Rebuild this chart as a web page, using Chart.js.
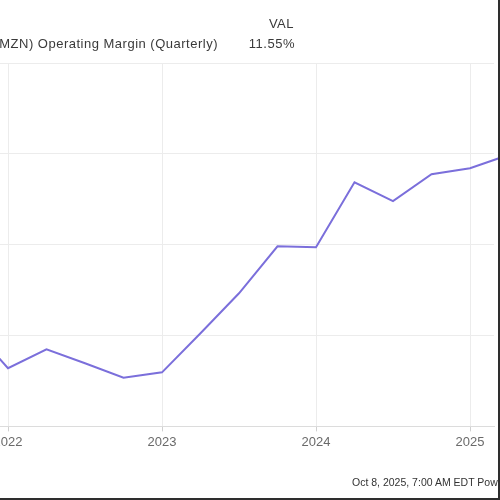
<!DOCTYPE html>
<html>
<head>
<meta charset="utf-8">
<script src="https://cdn.jsdelivr.net/npm/chart.js@4.4.1/dist/chart.umd.min.js"></script>
<style>
  html, body { margin: 0; padding: 0; background: #fff; }
  #frame {
    position: relative; width: 500px; height: 500px; overflow: hidden;
    box-sizing: border-box; border-right: 2px solid #2e2e2e; border-bottom: 2px solid #2e2e2e;
    background: #fff; font-family: "Liberation Sans", Arial, sans-serif;
  }
  #wrap { position: absolute; left: -100px; top: 0; width: 600px; height: 500px; }
  .txt { position: absolute; white-space: nowrap; font-size: 13px; line-height: 15px; letter-spacing: 0.5px; color: #3a3a3a; }
  #stamp { position: absolute; left: 352px; top: 476px; font-size: 10.5px; line-height: 12px; color: #333; white-space: nowrap; }
</style>
</head>
<body>
<div id="frame">
  <div id="wrap"><canvas id="c" width="600" height="500"></canvas></div>
  <div class="txt" id="series" style="right:280px; top:36px;"></div>
  <div class="txt" id="hdr" style="right:204px; top:16px;"></div>
  <div class="txt" id="val" style="right:203px; top:36px;"></div>
  <div id="stamp"></div>
</div>
<script>
// ---- data ----
const seriesName = "Amazon.com Inc (AMZN) Operating Margin (Quarterly)";
const valueHeader = "VAL";
const latestValue = "11.55%";
const stampText = "Oct 8, 2025, 7:00 AM EDT  Powered by YCHARTS";

const quarterYears = [2021, 2021, 2022, 2022, 2022, 2022, 2023, 2023, 2023, 2023, 2024, 2024, 2024, 2024, 2025, 2025];
const quarterNums  = [3, 4, 1, 2, 3, 4, 1, 2, 3, 4, 1, 2, 3, 4, 1, 2];
const marginPct    = [4.45, 2.56, 3.39, 2.78, 2.14, 2.38, 4.10, 5.86, 7.93, 7.89, 10.75, 9.92, 11.10, 11.37, 11.95, 11.55];
const yearTicks    = [2022, 2023, 2024, 2025];

document.getElementById('series').textContent = seriesName;
document.getElementById('hdr').textContent = valueHeader;
document.getElementById('val').textContent = latestValue;
document.getElementById('stamp').textContent = stampText;

// quarter-end as fractional year
const points = quarterYears.map((y, i) => ({ x: y + quarterNums[i] / 4, y: marginPct[i] }));

new Chart(document.getElementById('c'), {
  type: 'line',
  data: {
    datasets: [{
      label: seriesName,
      data: points,
      borderColor: '#7b6fdb',
      borderWidth: 2,
      pointRadius: 0,
      tension: 0,
      fill: false,
      clip: { left: 0, top: 0, right: 6, bottom: 0 }
    }]
  },
  options: {
    responsive: false,
    devicePixelRatio: 1,
    animation: false,
    layout: { padding: { left: 100, right: 6, top: 63, bottom: 47 } },
    plugins: { legend: { display: false }, tooltip: { enabled: false } },
    scales: {
      x: {
        type: 'linear',
        min: 2022 - 8 / 154,
        max: 2025 + 24 / 154,
        afterBuildTicks: (s) => { s.ticks = yearTicks.map(v => ({ value: v })); },
        grid: { color: '#ececec', tickLength: 5, tickColor: '#d0d0d0', lineWidth: 1 },
        border: { display: true, color: '#dcdcdc' },
        ticks: {
          color: '#6a6a6a', padding: 3, maxRotation: 0, autoSkip: false,
          font: { family: '"Liberation Sans", Arial, sans-serif', size: 13 },
          callback: (v) => String(v)
        }
      },
      y: {
        min: 0, max: 16,
        ticks: { display: false, stepSize: 4 },
        grid: { color: '#ececec', drawTicks: false, lineWidth: 1 },
        border: { display: false }
      }
    }
  }
});
</script>
</body>
</html>
